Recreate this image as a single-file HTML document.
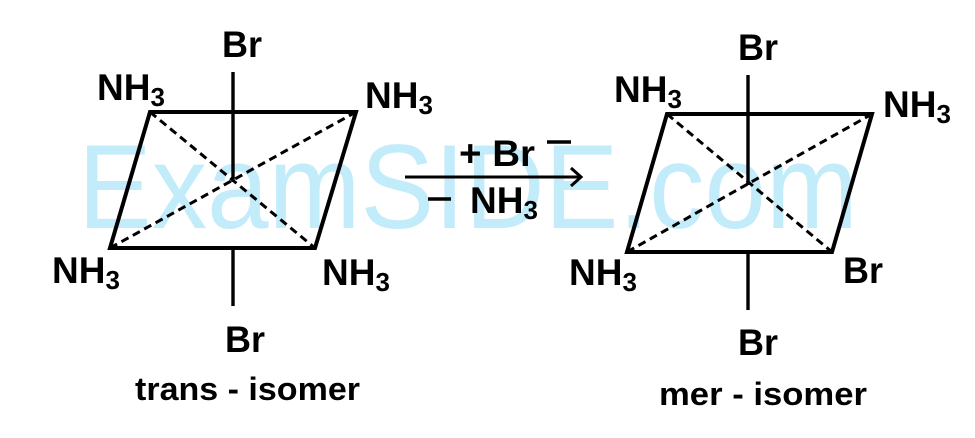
<!DOCTYPE html>
<html><head><meta charset="utf-8"><style>
html,body{margin:0;padding:0;background:#fff;}
svg{display:block;}
text{font-family:"Liberation Sans",sans-serif;font-weight:bold;fill:#000;}
</style></head><body>
<svg width="975" height="438" viewBox="0 0 975 438" xmlns="http://www.w3.org/2000/svg">
<text x="78" y="228" font-size="120" style="font-weight:normal;fill:#c3ecfb" textLength="780" lengthAdjust="spacingAndGlyphs">ExamSIDE.com</text>
<g stroke="#000" fill="none" stroke-width="4">
<polygon points="150,112 356,112 315,248 110,248" stroke-linejoin="miter"/>
<line x1="233" y1="72" x2="233" y2="182" stroke-width="3.4"/>
<line x1="233" y1="248" x2="233" y2="306" stroke-width="3.4"/>
<line x1="150" y1="112" x2="315" y2="248" stroke-dasharray="8,5" stroke-width="3"/>
<line x1="356" y1="112" x2="110" y2="248" stroke-dasharray="8,5" stroke-width="3"/>
<polygon points="667,114 872,114 832,252 627,252"/>
<line x1="748" y1="75" x2="748" y2="185" stroke-width="3.4"/>
<line x1="748" y1="252" x2="748" y2="310" stroke-width="3.4"/>
<line x1="667" y1="114" x2="832" y2="252" stroke-dasharray="8,5" stroke-width="3"/>
<line x1="872" y1="114" x2="627" y2="252" stroke-dasharray="8,5" stroke-width="3"/>
<line x1="405" y1="177" x2="580" y2="177" stroke-width="3"/>
<polyline points="571,168 581,177 571,186" stroke-width="3"/>
<line x1="547" y1="142" x2="571" y2="142" stroke-width="3.4"/>
<line x1="428" y1="199" x2="451" y2="199" stroke-width="3.4"/>
</g>
<g font-size="37">
<text x="222" y="57" textLength="40" lengthAdjust="spacingAndGlyphs">Br</text>
<text x="97" y="100">NH<tspan font-size="26" dy="6">3</tspan></text>
<text x="365" y="108">NH<tspan font-size="26" dy="6">3</tspan></text>
<text x="52" y="283">NH<tspan font-size="26" dy="6">3</tspan></text>
<text x="322" y="285">NH<tspan font-size="26" dy="6">3</tspan></text>
<text x="225" y="352" textLength="40" lengthAdjust="spacingAndGlyphs">Br</text>
<text x="459" y="166" textLength="76" lengthAdjust="spacingAndGlyphs">+ Br</text>
<text x="470" y="213">NH<tspan font-size="26" dy="6">3</tspan></text>
<text x="738" y="60" textLength="40" lengthAdjust="spacingAndGlyphs">Br</text>
<text x="614" y="102">NH<tspan font-size="26" dy="6">3</tspan></text>
<text x="883" y="117">NH<tspan font-size="26" dy="6">3</tspan></text>
<text x="569" y="285">NH<tspan font-size="26" dy="6">3</tspan></text>
<text x="843" y="283" textLength="40" lengthAdjust="spacingAndGlyphs">Br</text>
<text x="738" y="355" textLength="40" lengthAdjust="spacingAndGlyphs">Br</text>
</g>
<text x="135" y="400" font-size="32" textLength="225" lengthAdjust="spacingAndGlyphs">trans - isomer</text>
<text x="659" y="405" font-size="32" textLength="208" lengthAdjust="spacingAndGlyphs">mer - isomer</text>
</svg>
</body></html>
